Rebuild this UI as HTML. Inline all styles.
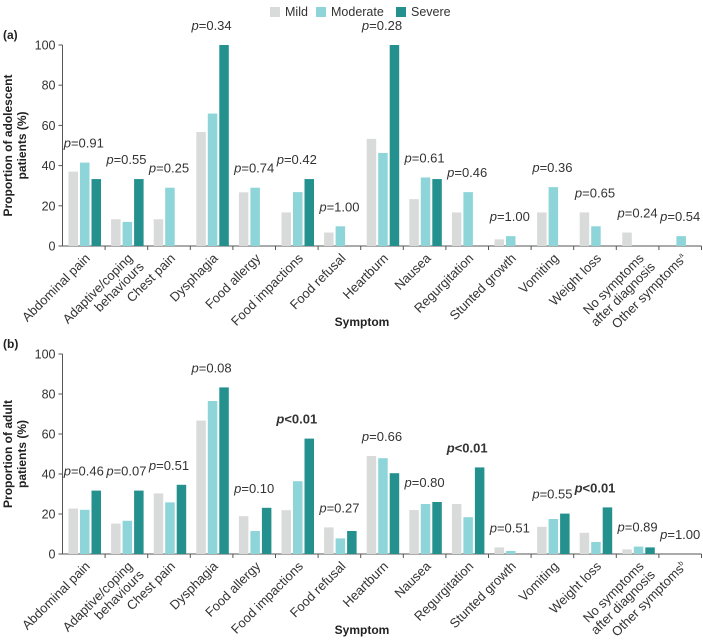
<!DOCTYPE html>
<html><head><meta charset="utf-8"><style>
html,body{margin:0;padding:0;background:#fff;}
svg{display:block;font-family:"Liberation Sans",sans-serif;}
</style></head><body>
<svg id="chart" width="703" height="642" viewBox="0 0 703 642">
<g>
  <rect x="270" y="7" width="10" height="10" fill="#d9dada"/>
  <text x="285" y="16" font-size="12.5" fill="#333">Mild</text>
  <rect x="316" y="7" width="10" height="10" fill="#8dd5d8"/>
  <text x="331" y="16" font-size="12.5" fill="#333">Moderate</text>
  <rect x="396" y="7" width="10" height="10" fill="#24918f"/>
  <text x="411" y="16" font-size="12.5" fill="#333">Severe</text>
</g>
</svg>
<script>
const categories = [["Abdominal pain"],["Adaptive/coping","behaviours"],["Chest pain"],["Dysphagia"],["Food allergy"],["Food impactions"],["Food refusal"],["Heartburn"],["Nausea"],["Regurgitation"],["Stunted growth"],["Vomiting"],["Weight loss"],["No symptoms","after diagnosis"],["Other symptoms"]];
const yTicks = [0,20,40,60,80,100];
const aMild = [37,13.3,13.3,56.7,26.7,16.7,6.7,53.3,23.3,16.7,3.3,16.7,16.7,6.7,0];
const aModerate = [41.5,12,29,65.9,29,26.8,9.8,46.3,34.1,26.8,4.9,29.3,9.8,0,4.9];
const aSevere = [33.3,33.3,0,100,0,33.3,0,100,33.3,0,0,0,0,0,0];
const aP = ["0.91","0.55","0.25","0.34","0.74","0.42","1.00","0.28","0.61","0.46","1.00","0.36","0.65","0.24","0.54"];
const bMild = [22.7,15.2,30.3,66.7,18.9,21.9,13.3,49,22,25,3.3,13.6,10.6,2.3,0];
const bModerate = [22.1,16.6,25.8,76.5,11.5,36.4,7.8,47.9,25,18.4,1.5,17.5,6,3.7,0];
const bSevere = [31.7,31.7,34.6,83.3,23.1,57.7,11.5,40.4,26,43.3,0,20.2,23.3,3.3,0];
const bP = ["0.46","0.07","0.51","0.08","0.10","<0.01","0.27","0.66","0.80","<0.01","0.51","0.55","<0.01","0.89","1.00"];

const NS="http://www.w3.org/2000/svg";
const svg=document.getElementById('chart');
function mk(tag,attrs,parent){const e=document.createElementNS(NS,tag);for(const k in attrs)e.setAttribute(k,attrs[k]);(parent||svg).appendChild(e);return e;}
const colors=["#d9dada","#8dd5d8","#24918f"];
const x0=62.5, gw=42.6;

function panel(id,letter,y0,y100,series,pvals,ylab,sup){
  const g=mk('g',{});
  
  
  const yS=v=>y0-(y0-y100)*v/100;
  const xS=i=>x0+gw*i;
  const L=mk('text',{x:3,y:y100-6,'font-size':12,'font-weight':'bold',fill:'#222'},g);
  L.textContent='('+letter+')';
  
  
  const ax=mk('line',{x1:x0,y1:y100,x2:x0,y2:y0,stroke:'#555','stroke-width':1},g);
  
  
  yTicks.forEach(t=>{
    mk('line',{x1:x0-4,x2:x0,y1:yS(t),y2:yS(t),stroke:'#555'},g);
    const tx=mk('text',{x:x0-7,y:yS(t)+4.5,'font-size':12.5,'text-anchor':'end',fill:'#333'},g);
    tx.textContent=t;
    
    
  });
  const yl=mk('text',{transform:`translate(12,${(y0+y100)/2}) rotate(-90)`,'font-size':12,'font-weight':'bold','text-anchor':'middle',fill:'#222'},g);
  
  
  ylab.forEach((s,k)=>{const ts=mk('tspan',{x:0,dy:k?14:0},yl);ts.textContent=s;});
  const xa=mk('line',{x1:x0,y1:y0,x2:x0+gw*15,y2:y0,stroke:'#555'},g);
  
  
  categories.forEach((c,i)=>{
    mk('line',{x1:xS(i+1),x2:xS(i+1),y1:y0,y2:y0+4,stroke:'#555'},g);
    const cx=xS(i)+gw/2;
    const tl=mk('text',{transform:`translate(${cx+7},${y0+13}) rotate(-45)`,'font-size':13,'text-anchor':'end',fill:'#333'},g);
    
    
    c.forEach((s,k)=>{
      const ts=mk('tspan',{x:k?2:0,dy:k?14:0},tl);ts.textContent=s;
      if(i===14){const sp=mk('tspan',{'font-size':7,dy:-5},tl);sp.textContent=sup;}
    });
    let mx=0;
    series.forEach((arr,s)=>{
      const v=arr[i];mx=Math.max(mx,v);
      const r=mk('rect',{x:xS(i)+6+s*11.5,y:yS(v),width:9.5,height:y0-yS(v),fill:colors[s]},g);
      
      
    });
    const bold=pvals[i].startsWith('<');
    const pt=mk('text',{x:cx,y:yS(mx)-15,'font-size':13,'text-anchor':'middle',fill:'#333','font-weight':bold?'bold':'normal'},g);
    
    
    const pi=mk('tspan',{'font-style':'italic'},pt);pi.textContent='p';
    const pv=mk('tspan',{},pt);pv.textContent=(bold?'':'=')+pvals[i];
  });
  const xt=mk('text',{x:362,y:y0+80,'font-size':12,'font-weight':'bold','text-anchor':'middle',fill:'#222'},g);
  xt.textContent='Symptom';
  
  
}
panel('a','a',246,45,[aMild,aModerate,aSevere],aP,['Proportion of adolescent','patients (%)'],'a');
panel('b','b',554,354,[bMild,bModerate,bSevere],bP,['Proportion of adult','patients (%)'],'b');
</script>
</body></html>
